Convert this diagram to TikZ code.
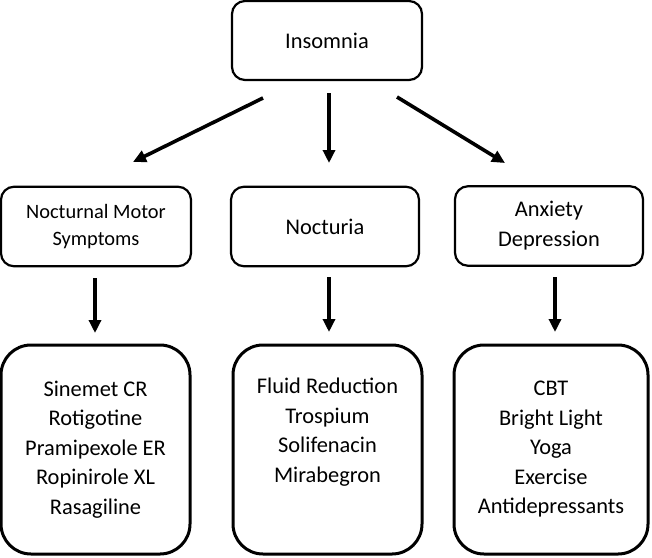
\documentclass[tikz,border=0pt]{standalone}
\usepackage{fontspec}
\setmainfont{Carlito}
\usetikzlibrary{arrows.meta}

\begin{document}
\begin{tikzpicture}[x=0.5pt,y=-0.5pt,
        box/.style={draw,line width=1.1pt,rounded corners=6.5pt,align=center,inner sep=0pt,
            minimum height=39.75pt,font=\fontsize{11.2}{15}\selectfont},
        txbox/.style={draw,line width=1.5pt,rounded corners=15pt,align=center,inner sep=0pt,
            minimum height=104.5pt,font=\fontsize{11.2}{14.75}\selectfont},
        arr/.style={-{Triangle[length=6.5pt,width=6pt]},line width=1.8pt}]
        \useasboundingbox (0,0) rectangle (652,557);

        % Topo
        \node[box,minimum width=95pt,minimum height=39.5pt] (ins) at (327,40.5) {Insomnia};

        % Causas
        \node[box,minimum width=95pt,font=\fontsize{10.2}{13.5}\selectfont] (motor) at (96,226.5) {Nocturnal Motor\\Symptoms};
        \node[box,minimum width=94pt] (nocturia) at (325,226.5) {Nocturia};
        \node[box,minimum width=94pt] (anxiety) at (549,226) {Anxiety\\Depression};

        % Tratamentos
        \node[txbox,minimum width=94.5pt] (motortx) at (95.5,449.5)
            {Sinemet CR\\Rotigotine\\Pramipexole ER\\Ropinirole XL\\Rasagiline};
        \node[txbox,minimum width=94.5pt] (nocturiatx) at (327.5,449.5)
            {Fluid Reduction\\Trospium\\Solifenacin\\Mirabegron\\\strut};
        \node[txbox,minimum width=97pt] (anxietytx) at (551,449.5)
            {CBT\\Bright Light\\Yoga\\Exercise\\Antidepressants};

        % Setas
        \coordinate (s1) at (263,98);  \coordinate (e1) at (133,162);
        \coordinate (s2) at (329,93);  \coordinate (e2) at (329,163);
        \coordinate (s3) at (397,97);  \coordinate (e3) at (505,163);
        \coordinate (s4) at (95,278);  \coordinate (e4) at (95,333);
        \coordinate (s5) at (329,277); \coordinate (e5) at (329,332);
        \coordinate (s6) at (555,277); \coordinate (e6) at (555,332);
        \foreach \i in {1,...,6}
            \draw[arr] (s\i) -- (e\i);
    \end{tikzpicture}
\end{document}
